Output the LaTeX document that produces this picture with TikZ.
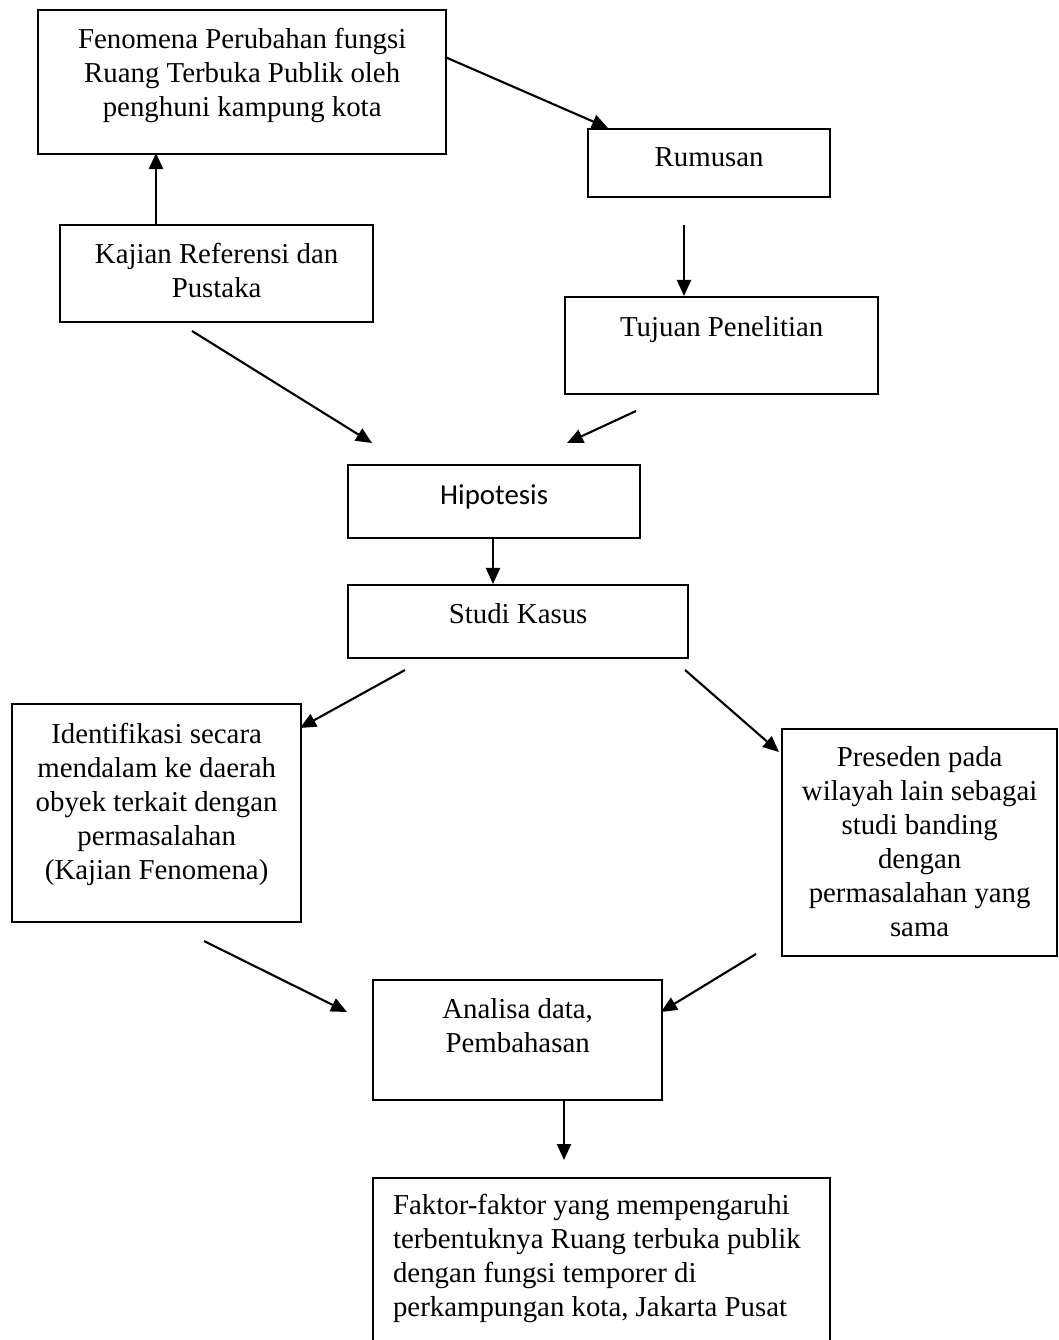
\documentclass[tikz,border=0pt]{standalone}
\usepackage{fontspec}
\setmainfont{Liberation Serif}
\newfontfamily\hipfont{Carlito}
\usetikzlibrary{arrows.meta}

\begin{document}
\begin{tikzpicture}[x=0.01cm, y=-0.01cm,
        box/.style={draw, line width=0.6pt, inner sep=0pt, anchor=north west},
        arr/.style={-{Triangle[length=0.16cm, width=0.14cm]}, line width=0.6pt},
        font=\fontsize{8.2}{9.7}\selectfont]
        % Page frame
        \useasboundingbox (0,0) rectangle (1058,1340);
        \clip (0,0) rectangle (1058,1340);

        % Upper boxes
        \node[box] (fen) at (37,9) {\parbox[t][1.44cm][t]{4.08cm}{\centering\rule{0pt}{0.38cm}Fenomena Perubahan fungsi\\Ruang Terbuka Publik oleh\\penghuni kampung kota}};
        \node[box] (rum) at (587,128) {\parbox[t][0.68cm][t]{2.42cm}{\centering\rule{0pt}{0.37cm}Rumusan}};
        \node[box] (kaj) at (59,224) {\parbox[t][0.97cm][t]{3.13cm}{\centering\rule{0pt}{0.38cm}Kajian Referensi dan\\Pustaka}};
        \node[box] (tuj) at (564,296) {\parbox[t][0.97cm][t]{3.13cm}{\centering\rule{0pt}{0.39cm}Tujuan Penelitian}};

        % Middle boxes
        \node[box] (hip) at (347,464) {\parbox[t][0.73cm][t]{2.92cm}{\centering\rule{0pt}{0.39cm}\hipfont Hipotesis}};
        \node[box] (stu) at (347,584) {\parbox[t][0.73cm][t]{3.40cm}{\centering\rule{0pt}{0.38cm}Studi Kasus}};
        \node[box] (ide) at (11,703) {\parbox[t][2.18cm][t]{2.89cm}{\centering\rule{0pt}{0.39cm}Identifikasi secara\\mendalam ke daerah\\obyek terkait dengan\\permasalahan\\(Kajian Fenomena)}};
        \node[box] (pre) at (781,728) {\parbox[t][2.27cm][t]{2.75cm}{\centering\rule{0pt}{0.37cm}Preseden pada\\wilayah lain sebagai\\studi banding\\dengan\\permasalahan yang\\sama}};

        % Lower boxes
        \node[box] (ana) at (372,979) {\parbox[t][1.20cm][t]{2.89cm}{\centering\rule{0pt}{0.38cm}Analisa data,\\Pembahasan}};
        \node[box] (fak) at (372,1177) {\parbox[t][1.80cm][t]{4.57cm}{\raggedright\leftskip=0.2cm\rule{0pt}{0.36cm}Faktor-faktor yang mempengaruhi\\terbentuknya Ruang terbuka publik\\dengan fungsi temporer di\\perkampungan kota, Jakarta Pusat}};

        % Free ends of the arrows
        \coordinate (fen-out) at (445,57);
        \coordinate (rum-in) at (608,128);
        \coordinate (kaj-up) at (156,224);
        \coordinate (fen-in) at (156,153);
        \coordinate (rum-out) at (684,225);
        \coordinate (tuj-in) at (684,296);
        \coordinate (kaj-out) at (192,331);
        \coordinate (hip-inl) at (372,443);
        \coordinate (tuj-out) at (636,411);
        \coordinate (hip-inr) at (567,443);
        \coordinate (hip-out) at (493,537);
        \coordinate (stu-in) at (493,584);
        \coordinate (stu-outl) at (405,670);
        \coordinate (ide-in) at (300,728);
        \coordinate (stu-outr) at (685,670);
        \coordinate (pre-in) at (779,752);
        \coordinate (ide-out) at (204,941);
        \coordinate (ana-inl) at (347,1012);
        \coordinate (pre-out) at (756,954);
        \coordinate (ana-inr) at (661,1012);
        \coordinate (ana-out) at (564,1099);
        \coordinate (fak-in) at (564,1160);

        % Arrows
        \draw[arr] (fen-out) -- (rum-in);
        \draw[arr] (kaj-up) -- (fen-in);
        \draw[arr] (rum-out) -- (tuj-in);
        \draw[arr] (kaj-out) -- (hip-inl);
        \draw[arr] (tuj-out) -- (hip-inr);
        \draw[arr] (hip-out) -- (stu-in);
        \draw[arr] (stu-outl) -- (ide-in);
        \draw[arr] (stu-outr) -- (pre-in);
        \draw[arr] (ide-out) -- (ana-inl);
        \draw[arr] (pre-out) -- (ana-inr);
        \draw[arr] (ana-out) -- (fak-in);
    \end{tikzpicture}
\end{document}
